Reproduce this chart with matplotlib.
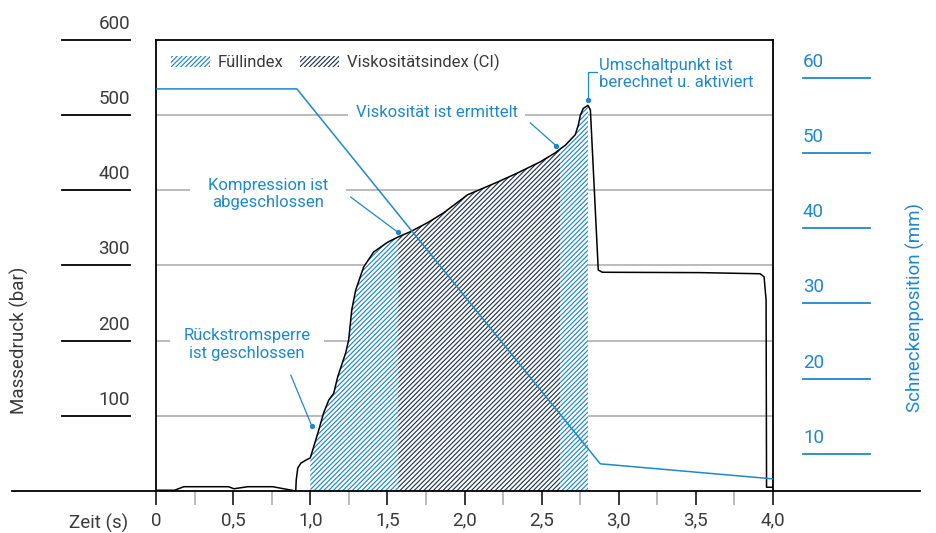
import matplotlib.pyplot as plt
from matplotlib.patches import Patch
from matplotlib.ticker import FuncFormatter, MultipleLocator

plt.rcParams["font.family"] = ["Roboto", "DejaVu Sans"]
plt.rcParams["hatch.linewidth"] = 0.85

BLUE = "#1e88cc"
NAVY = "#25394f"
TEXT = "#3a3a3a"
GRID = "#a8a8a8"
HATCH = "/" * 7

# Massedruck (bar) over Zeit (s)
zeit = [0, 0.12, 0.18, 0.47, 0.505, 0.595, 0.757, 0.906, 0.909, 0.919,
        0.939, 0.971, 1.0, 1.049, 1.087, 1.12, 1.152, 1.178, 1.23, 1.249,
        1.269, 1.294, 1.346, 1.411, 1.502, 1.57, 1.65, 1.761, 1.864, 1.974,
        2.019, 2.123, 2.214, 2.343, 2.492, 2.589, 2.62, 2.654, 2.718, 2.738,
        2.751, 2.77, 2.8, 2.816, 2.867, 2.893, 3.528, 3.916, 3.942, 3.955,
        3.958, 4.0]
druck = [1, 1, 5.7, 5.7, 3, 5.7, 5.7, 0, 14.6, 30.6,
         37, 41, 44, 77, 104, 121, 130, 152, 184, 201,
         241, 267, 298, 318, 331, 338, 345, 357, 370, 387,
         394, 403, 411, 423, 438, 450, 455, 460, 474, 487,
         500, 509, 513, 507, 294, 291, 290.5, 289, 285, 254,
         5, 5]

# Schneckenposition (mm)
schnecke_t = [0, 0.913, 2.88, 4.0]
schnecke_mm = [58.5, 58.5, 8.7, 6.7]

fuell_range = (1.0, 2.8)
visko_range = (1.57, 2.62)

druck_ticks = [100, 200, 300, 400, 500, 600]
mm_ticks = [10, 20, 30, 40, 50, 60]

fig = plt.figure(figsize=(9.37, 5.33), dpi=100)
ax = fig.add_axes([0.1665, 0.0788, 0.6585, 0.8462])
ax.set_xlim(0, 4)
ax.set_ylim(0, 600)

# grid + hidden y axis
ax.set_yticks(druck_ticks[:-1])
ax.tick_params(axis="y", length=0, labelleft=False)
ax.yaxis.grid(True, color=GRID, lw=1.1)
ax.set_axisbelow(True)

for side in ["left", "top", "right"]:
    ax.spines[side].set_linewidth(1.3)
ax.spines["bottom"].set_visible(False)

ax.xaxis.set_major_locator(MultipleLocator(0.5))
ax.xaxis.set_minor_locator(MultipleLocator(0.25))
ax.xaxis.set_major_formatter(
    FuncFormatter(lambda v, p: "0" if v == 0 else f"{v:.1f}".replace(".", ","))
)
ax.tick_params(axis="x", which="major", length=10, width=1.1, color="black",
               labelsize=13.5, labelcolor=TEXT, pad=5)
ax.tick_params(axis="x", which="minor", length=10, width=1.1, color=GRID)

ytr = ax.get_yaxis_transform()
ax.plot([-0.2334, 1.2383], [0, 0], transform=ytr, color="black", lw=1.3,
        clip_on=False, zorder=5)

# hatched areas
t_f = [t for t in zeit if fuell_range[0] <= t <= fuell_range[1]]
p_f = [p for t, p in zip(zeit, druck) if fuell_range[0] <= t <= fuell_range[1]]
ax.fill_between(t_f, 0, p_f, facecolor="white", edgecolor=BLUE, hatch=HATCH,
                lw=0, zorder=2)
t_v = [t for t in zeit if visko_range[0] <= t <= visko_range[1]]
p_v = [p for t, p in zip(zeit, druck) if visko_range[0] <= t <= visko_range[1]]
ax.fill_between(t_v, 0, p_v, facecolor="white", edgecolor=NAVY, hatch=HATCH,
                lw=0, zorder=2)

ax.plot(zeit, druck, color="black", lw=1.1, zorder=4)

# left scale labels
for v in druck_ticks:
    ax.plot([-0.1523, -0.0421], [v, v], transform=ytr, color="black", lw=1.3,
            clip_on=False)
    ax.annotate(str(v), xy=(-0.0421, v), xycoords=ytr, xytext=(0, 8),
                textcoords="offset points", ha="right", va="baseline",
                fontsize=13.5, color=TEXT, annotation_clip=False)
ax.text(-0.2210, 0.335, "Massedruck (bar)", rotation=90, transform=ax.transAxes,
        ha="center", va="center", fontsize=13.5, color=TEXT)
ax.text(-0.0454, -0.0843, "Zeit (s)", transform=ax.transAxes, ha="right",
        va="baseline", fontsize=13.5, color=TEXT)

# right axis: Schneckenposition
ax2 = ax.twinx()
ax2.set_ylim(5.09, 65.0)
ax2.axis("off")
ax2.plot(schnecke_t, schnecke_mm, color=BLUE, lw=1.1)
ytr2 = ax2.get_yaxis_transform()
for v in mm_ticks:
    ax2.plot([1.0486, 1.1572], [v, v], transform=ytr2, color=BLUE, lw=1.3,
             clip_on=False)
    ax2.annotate(str(v), xy=(1.0486, v), xycoords=ytr2, xytext=(0, 8),
                 textcoords="offset points", ha="left", va="baseline",
                 fontsize=13.5, color=BLUE, annotation_clip=False)
ax2.text(1.230, 0.406, "Schneckenposition (mm)", rotation=90,
         transform=ax2.transAxes, ha="center", va="center", fontsize=13.5,
         color=BLUE)

# annotations
notes = [
    ("Rückstromsperre\nist geschlossen", 0.59, 195, "center", 10),
    ("Kompression ist\nabgeschlossen", 0.724, 395, "center", 13),
    ("Viskosität ist ermittelt", 1.819, 503, "center", 5.5),
]
for txt, x, y, ha, pad in notes:
    ax.text(x, y, txt, ha=ha, va="center", fontsize=12, color=BLUE,
            linespacing=1.2, zorder=3,
            bbox=dict(facecolor="white", edgecolor="none", pad=pad))
ax.text(2.874, 555, "Umschaltpunkt ist\nberechnet u. aktiviert", ha="left",
        va="center", fontsize=12, color=BLUE, linespacing=1.2)

leaders = [
    ([0.874, 1.010], [154, 86.5]),
    ([1.262, 1.566], [391, 344.5]),
    ([2.427, 2.595], [489.6, 459]),
    ([2.861, 2.803, 2.803], [557.4, 557.4, 520]),
]
for xs, ys in leaders:
    ax.plot(xs, ys, color=BLUE, lw=0.9, zorder=6, clip_on=False)
    ax.plot(xs[-1], ys[-1], "o", color=BLUE, ms=2.8, zorder=6, clip_on=False)

handles = [
    Patch(facecolor="white", edgecolor=BLUE, hatch=HATCH, lw=0),
    Patch(facecolor="white", edgecolor=NAVY, hatch=HATCH, lw=0),
]
ax.legend(handles, ["Füllindex", "Viskositätsindex (CI)"], loc="center left",
          bbox_to_anchor=(0.0243, 0.950), ncol=2, frameon=False, fontsize=12,
          labelcolor=TEXT, handlelength=2.35, handleheight=0.7,
          handletextpad=0.45, columnspacing=1.0, borderpad=0, borderaxespad=0)

fig.savefig("out.png", dpi=100)
